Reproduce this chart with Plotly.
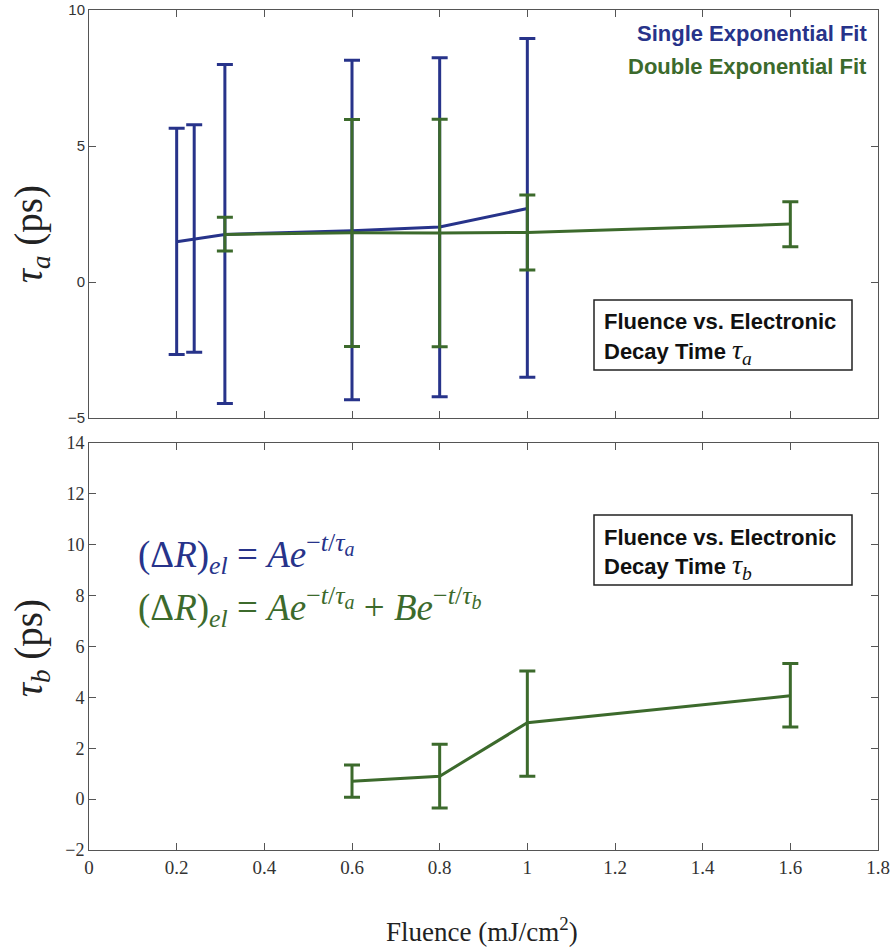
import plotly.graph_objects as go

# Electronic decay time tau_a vs. fluence, single-exponential fit
fluence_single = [0.2, 0.24, 0.31, 0.6, 0.8, 1.0]
tau_a_single = [1.48, 1.58, 1.75, 1.88, 2.02, 2.7]
tau_a_single_hi = [5.65, 5.78, 8.0, 8.15, 8.24, 8.95]
tau_a_single_lo = [-2.67, -2.58, -4.47, -4.33, -4.22, -3.5]

# Electronic decay time tau_a vs. fluence, double-exponential fit
fluence_double = [0.31, 0.6, 0.8, 1.0, 1.6]
tau_a_double = [1.75, 1.81, 1.8, 1.82, 2.13]
tau_a_double_hi = [2.38, 5.97, 5.98, 3.2, 2.95]
tau_a_double_lo = [1.14, -2.37, -2.38, 0.44, 1.3]

# Electronic decay time tau_b vs. fluence, double-exponential fit
fluence_b = [0.6, 0.8, 1.0, 1.6]
tau_b = [0.7, 0.9, 3.0, 4.06]
tau_b_hi = [1.34, 2.16, 5.04, 5.33]
tau_b_lo = [0.07, -0.35, 0.9, 2.84]

x_ticks = [0, 0.2, 0.4, 0.6, 0.8, 1, 1.2, 1.4, 1.6, 1.8]
x_tick_text = ["0", "0.2", "0.4", "0.6", "0.8", "1", "1.2", "1.4", "1.6", "1.8"]
ya_ticks = [-5, 0, 5, 10]
yb_ticks = [-2, 0, 2, 4, 6, 8, 10, 12, 14]

BLUE = "#27338a"
GREEN = "#3c6a2c"
SERIF = "Liberation Serif, DejaVu Serif, serif"
SANS = "Liberation Sans, Arial, sans-serif"


def err(y, hi, lo):
    return dict(
        type="data",
        symmetric=False,
        array=[h - v for h, v in zip(hi, y)],
        arrayminus=[v - l for l, v in zip(lo, y)],
        thickness=3,
        width=8,
    )


fig = go.Figure()

fig.add_trace(go.Scatter(
    x=fluence_single, y=tau_a_single, mode="lines",
    line=dict(color=BLUE, width=3),
    error_y=dict(err(tau_a_single, tau_a_single_hi, tau_a_single_lo), color=BLUE),
    xaxis="x", yaxis="y", showlegend=False,
))
fig.add_trace(go.Scatter(
    x=fluence_double, y=tau_a_double, mode="lines",
    line=dict(color=GREEN, width=3),
    error_y=dict(err(tau_a_double, tau_a_double_hi, tau_a_double_lo), color=GREEN),
    xaxis="x", yaxis="y", showlegend=False,
))
fig.add_trace(go.Scatter(
    x=fluence_b, y=tau_b, mode="lines",
    line=dict(color=GREEN, width=3),
    error_y=dict(err(tau_b, tau_b_hi, tau_b_lo), color=GREEN),
    xaxis="x2", yaxis="y2", showlegend=False,
))

W, H = 891, 947
x_dom = [89 / W, 878 / W]
top_dom = [1 - 418 / H, 1 - 10 / H]
bot_dom = [1 - 850 / H, 1 - 443 / H]

axis_common = dict(
    showgrid=False, zeroline=False, showline=True, linecolor="#555555",
    linewidth=1, mirror="ticks", ticks="inside", ticklen=7, tickcolor="#555555",
    automargin=False,
)

fig.update_layout(
    width=W, height=H,
    margin=dict(l=0, r=0, t=0, b=0, pad=0, autoexpand=False),
    paper_bgcolor="white", plot_bgcolor="white",
    xaxis=dict(axis_common, domain=x_dom, range=[0, 1.8], tickvals=x_ticks,
               showticklabels=False, anchor="y"),
    yaxis=dict(axis_common, domain=top_dom, range=[-5, 10], tickvals=ya_ticks,
               tickfont=dict(family=SANS, size=15, color="#333333"), anchor="x"),
    xaxis2=dict(axis_common, domain=x_dom, range=[0, 1.8], tickvals=x_ticks,
                ticktext=x_tick_text,
                tickfont=dict(family=SERIF, size=19, color="#333333"), anchor="y2"),
    yaxis2=dict(axis_common, domain=bot_dom, range=[-2, 14], tickvals=yb_ticks,
                tickfont=dict(family=SERIF, size=18, color="#333333"), anchor="x2"),
)

TAU_A = "<span style='font-family:Liberation Serif;font-size:28px'><i>τ</i><sub><i>a</i></sub></span>"
TAU_B = "<span style='font-family:Liberation Serif;font-size:28px'><i>τ</i><sub><i>b</i></sub></span>"


def expo(sym):
    return ("<sup><span style='font-size:26px'>−<i>t</i>/<i>τ</i></span>"
            "<sub><span style='font-size:20px'><i>" + sym + "</i></span></sub></sup>")


annotations = [
    # series key
    dict(x=869 / W, y=1 - 33 / H, text="<b>Single Exponential Fit</b>",
         font=dict(family=SANS, size=22, color=BLUE), xanchor="right"),
    dict(x=869 / W, y=1 - 66 / H, text="<b>Double Exponential Fit</b>",
         font=dict(family=SANS, size=22, color=GREEN), xanchor="right"),
    # panel captions
    dict(x=602 / W, y=1 - 322 / H, text="<b>Fluence vs. Electronic</b>",
         font=dict(family=SANS, size=22, color="#111111"), xanchor="left"),
    dict(x=602 / W, y=1 - 351 / H, text="<b>Decay Time</b> " + TAU_A,
         font=dict(family=SANS, size=22, color="#111111"), xanchor="left"),
    dict(x=602 / W, y=1 - 537 / H, text="<b>Fluence vs. Electronic</b>",
         font=dict(family=SANS, size=22, color="#111111"), xanchor="left"),
    dict(x=602 / W, y=1 - 566 / H, text="<b>Decay Time</b> " + TAU_B,
         font=dict(family=SANS, size=22, color="#111111"), xanchor="left"),
    # fit equations
    dict(x=136 / W, y=1 - 554 / H,
         text="(Δ<i>R</i>)<sub><i>el</i></sub> = <i>Ae</i>" + expo("a"),
         font=dict(family=SERIF, size=37, color=BLUE), xanchor="left"),
    dict(x=136 / W, y=1 - 607 / H,
         text="(Δ<i>R</i>)<sub><i>el</i></sub> = <i>Ae</i>" + expo("a")
              + " + <i>Be</i>" + expo("b"),
         font=dict(family=SERIF, size=37, color=GREEN), xanchor="left"),
    # axis titles
    dict(x=31 / W, y=1 - 234 / H, text="<i>τ<sub>a</sub></i> (ps)", textangle=-90,
         font=dict(family=SERIF, size=39, color="#222222"), xanchor="center"),
    dict(x=31 / W, y=1 - 648 / H, text="<i>τ<sub>b</sub></i> (ps)", textangle=-90,
         font=dict(family=SERIF, size=39, color="#222222"), xanchor="center"),
    dict(x=482 / W, y=1 - 930 / H, text="Fluence (mJ/cm<sup>2</sup>)",
         font=dict(family=SERIF, size=27, color="#222222"), xanchor="center"),
]
for a in annotations:
    a.setdefault("xref", "paper")
    a.setdefault("yref", "paper")
    a.setdefault("showarrow", False)
    a.setdefault("yanchor", "middle")
fig.update_layout(annotations=annotations)

# caption frames
for y0, y1 in [(300, 370), (515, 585)]:
    fig.add_shape(type="rect", xref="paper", yref="paper",
                  x0=594 / W, x1=852 / W, y0=1 - y1 / H, y1=1 - y0 / H,
                  line=dict(color="#222222", width=1.5), fillcolor="rgba(0,0,0,0)")

fig.write_html("out.html")
